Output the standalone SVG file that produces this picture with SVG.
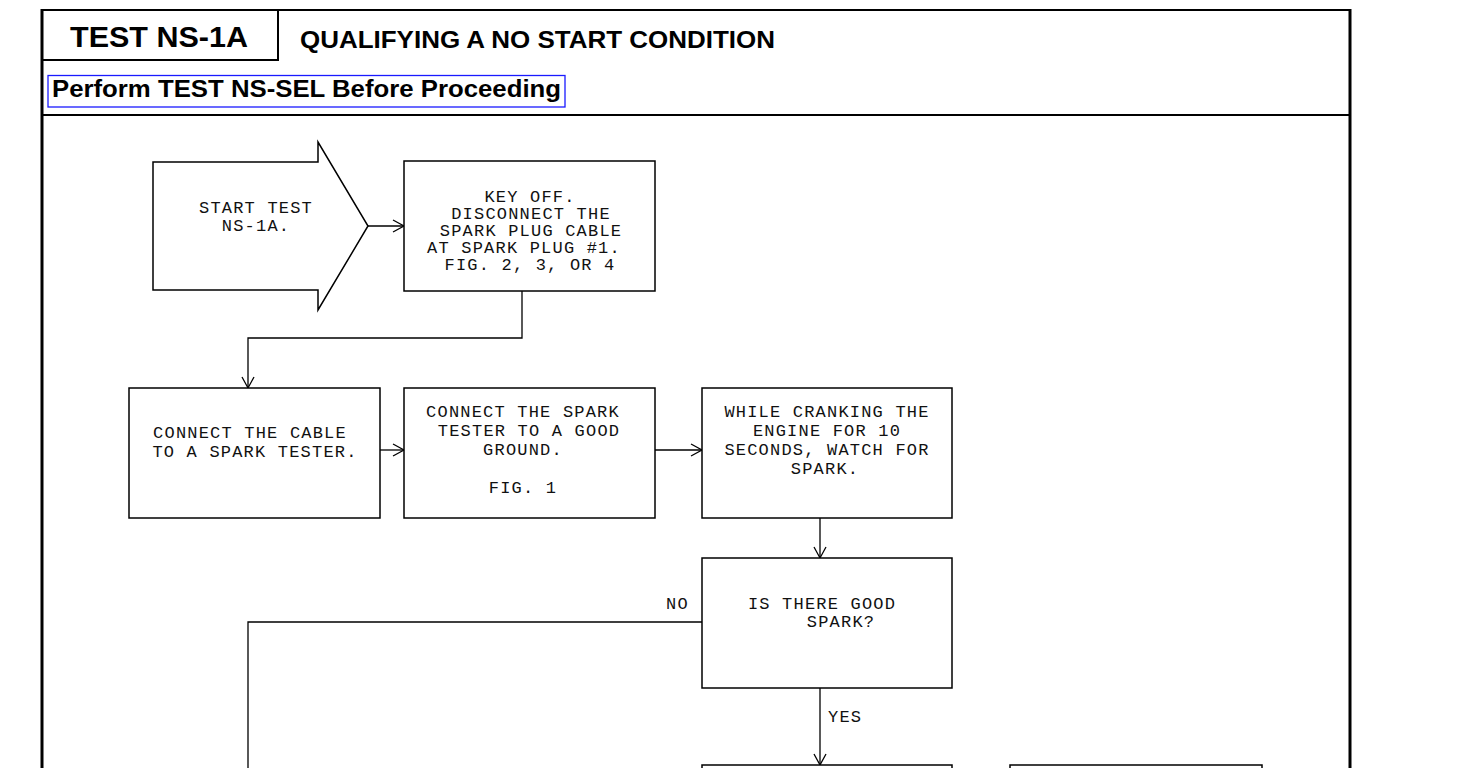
<svg xmlns="http://www.w3.org/2000/svg" width="1463" height="768" viewBox="0 0 1463 768">
<defs>
<style>
.frame{fill:none;stroke:#000;stroke-width:3}
.thin{fill:none;stroke:#000;stroke-width:2}
.box{fill:#fff;stroke:#000;stroke-width:1.5}
.conn{fill:none;stroke:#000;stroke-width:1.3}
.hd{font-family:"Liberation Sans",Arial,sans-serif;font-weight:bold;fill:#000}
.t{font-family:"Liberation Mono","Courier New",monospace;font-size:17px;letter-spacing:1.2px;fill:#111;text-anchor:middle}
.tl{font-family:"Liberation Mono","Courier New",monospace;font-size:17px;letter-spacing:1.2px;fill:#111}
</style>
<marker id="ah" markerWidth="14" markerHeight="14" refX="12" refY="7" orient="auto" markerUnits="userSpaceOnUse">
<path d="M1,1 L12,7 L1,13" fill="none" stroke="#000" stroke-width="1.3"/>
</marker>
</defs>
<rect width="1463" height="768" fill="#fff"/>

<g id="frame">
<line x1="42" y1="10" x2="1350" y2="10" class="thin"/>
<line x1="42" y1="9" x2="42" y2="768" class="frame"/>
<line x1="1350" y1="9" x2="1350" y2="768" class="frame"/>
<line x1="42" y1="115" x2="1350" y2="115" class="thin"/>
<path d="M278,10 V60 H42" class="thin"/>
<text x="70" y="47" class="hd" font-size="30" textLength="178" lengthAdjust="spacingAndGlyphs">TEST NS-1A</text>
<text x="300" y="48" class="hd" font-size="23" textLength="475" lengthAdjust="spacingAndGlyphs">QUALIFYING A NO START CONDITION</text>
<rect x="48" y="75.5" width="517" height="31.5" fill="none" stroke="#1a1aff" stroke-width="1.3"/>
<text x="52" y="97" class="hd" font-size="24" textLength="509" lengthAdjust="spacingAndGlyphs">Perform TEST NS-SEL Before Proceeding</text>
</g>

<g id="connectors">
<line x1="368" y1="226" x2="404" y2="226" class="conn" marker-end="url(#ah)"/>
<path d="M522,291 V338 H248 V388" class="conn" marker-end="url(#ah)"/>
<line x1="380" y1="450" x2="404" y2="450" class="conn" marker-end="url(#ah)"/>
<line x1="655" y1="450" x2="702" y2="450" class="conn" marker-end="url(#ah)"/>
<line x1="820" y1="518" x2="820" y2="558" class="conn" marker-end="url(#ah)"/>
<path d="M702,622 H248 V768" class="conn"/>
<line x1="820" y1="688" x2="820" y2="765" class="conn" marker-end="url(#ah)"/>
<text x="666" y="609" class="tl">NO</text>
<text x="828" y="722" class="tl">YES</text>
</g>

<g id="start">
<path d="M153,162 H318 V142 L368,226 L318,310 V290 H153 Z" class="box"/>
<text x="256" y="213" class="t">START TEST</text>
<text x="256" y="231" class="t">NS-1A.</text>
</g>

<g id="keyoff">
<rect x="404" y="161" width="251" height="130" class="box"/>
<text x="530" y="202" class="t">KEY OFF.</text>
<text x="531" y="219" class="t">DISCONNECT THE</text>
<text x="531" y="236" class="t">SPARK PLUG CABLE</text>
<text x="524" y="253" class="t">AT SPARK PLUG #1.</text>
<text x="530" y="270" class="t">FIG. 2, 3, OR 4</text>
</g>

<g id="cable">
<rect x="129" y="388" width="251" height="130" class="box"/>
<text x="250" y="438" class="t">CONNECT THE CABLE</text>
<text x="255" y="457" class="t">TO A SPARK TESTER.</text>
</g>

<g id="ground">
<rect x="404" y="388" width="251" height="130" class="box"/>
<text x="523" y="417" class="t">CONNECT THE SPARK</text>
<text x="529" y="436" class="t">TESTER TO A GOOD</text>
<text x="523" y="455" class="t">GROUND.</text>
<text x="523" y="493" class="t">FIG. 1</text>
</g>

<g id="crank">
<rect x="702" y="388" width="250" height="130" class="box"/>
<text x="827" y="417" class="t">WHILE CRANKING THE</text>
<text x="827" y="436" class="t">ENGINE FOR 10</text>
<text x="827" y="455" class="t">SECONDS, WATCH FOR</text>
<text x="825" y="474" class="t">SPARK.</text>
</g>

<g id="decision">
<rect x="702" y="558" width="250" height="130" class="box"/>
<text x="822" y="609" class="t">IS THERE GOOD</text>
<text x="841" y="627" class="t">SPARK?</text>
</g>

<g id="next-yes">
<rect x="702" y="765" width="250" height="20" class="box"/>
</g>
<g id="next-right">
<rect x="1010" y="765" width="252" height="20" class="box"/>
</g>
</svg>
